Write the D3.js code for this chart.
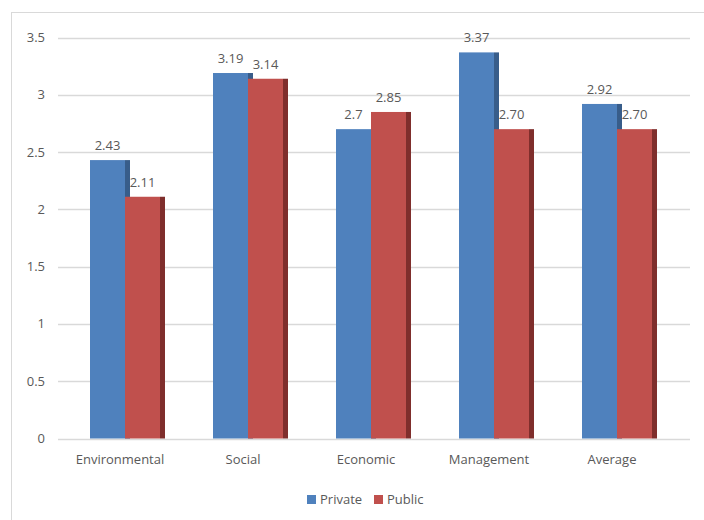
<!DOCTYPE html>
<html><head><meta charset="utf-8">
<script src="https://cdn.jsdelivr.net/npm/d3@7"></script>
<style>body{margin:0;background:#fff}svg{display:block}text{font-family:"Open Sans","Liberation Sans",sans-serif;fill:#595959}</style>
</head><body><svg id="c" width="704" height="520"></svg>
<script>
const categories = ["Environmental","Social","Economic","Management","Average"];
const privateVals = [2.43,3.19,2.7,3.37,2.92];
const publicVals = [2.11,3.14,2.85,2.70,2.70];
const privateLabels = ["2.43","3.19","2.7","3.37","2.92"];
const publicLabels = ["2.11","3.14","2.85","2.70","2.70"];
const yTicks = [0,0.5,1,1.5,2,2.5,3,3.5];
const seriesNames = ["Private","Public"];

const svg = d3.select("#c");
svg.append("rect").attr("x",11.5).attr("y",12.5).attr("width",720).attr("height",540)
  .attr("fill","none").attr("stroke","#d9d9d9");

const y = d3.scaleLinear().domain([0,3.5]).range([438.5,37.5]);
const x = d3.scaleBand().domain(categories).range([63.5,678.5]);
const gridX0 = 58, gridX1 = 690;

svg.append("g").selectAll("line").data(yTicks).join("line")
  .attr("x1",gridX0).attr("x2",gridX1)
  .attr("y1",d=>Math.round(y(d))+0.5).attr("y2",d=>Math.round(y(d))+0.5)
  .attr("stroke","#d9d9d9").attr("stroke-width",1.5);

svg.append("g").selectAll("text").data(yTicks).join("text")
  .attr("x",45).attr("y",d=>y(d)).attr("dy","0.35em").attr("text-anchor","end")
  .attr("font-size",13).text(d=>d3.format("~g")(d));

const bw = 35, side = 5;
const series = [
  {name:"Private", vals:privateVals, labels:privateLabels, color:"#4F81BD", dark:"#385D8A", off:-bw},
  {name:"Public", vals:publicVals, labels:publicLabels, color:"#C0504D", dark:"#7F2E2C", off:0}
];
series.forEach(s=>{
  const g = svg.append("g");
  categories.forEach((c,i)=>{
    const cx = x(c)+x.bandwidth()/2 + s.off;
    const top = y(s.vals[i]);
    g.append("rect").attr("x",cx+bw).attr("y",top).attr("width",side).attr("height",y(0)-top).attr("fill",s.dark);
  });
});
series.forEach(s=>{
  const g = svg.append("g");
  categories.forEach((c,i)=>{
    const cx = x(c)+x.bandwidth()/2 + s.off;
    const top = y(s.vals[i]);
    g.append("rect").attr("x",cx).attr("y",top).attr("width",bw).attr("height",y(0)-top).attr("fill",s.color);
  });
});
series.forEach(s=>{
  categories.forEach((c,i)=>{
    const cx = x(c)+x.bandwidth()/2 + s.off + bw/2;
    svg.append("text").attr("x",cx).attr("y",y(s.vals[i])-10).attr("text-anchor","middle")
      .attr("font-size",13).text(s.labels[i]);
  });
});

svg.append("g").selectAll("text").data(categories).join("text")
  .attr("x",d=>x(d)+x.bandwidth()/2-5).attr("y",464).attr("text-anchor","middle")
  .attr("font-size",13).text(d=>d);

const leg = svg.append("g");
const legX = [307, 374];
series.forEach((s,i)=>{
  leg.append("rect").attr("x",legX[i]).attr("y",495).attr("width",9).attr("height",9).attr("fill",s.color);
  leg.append("text").attr("x",legX[i]+13).attr("y",504).attr("font-size",13).text(s.name);
});
</script></body></html>
